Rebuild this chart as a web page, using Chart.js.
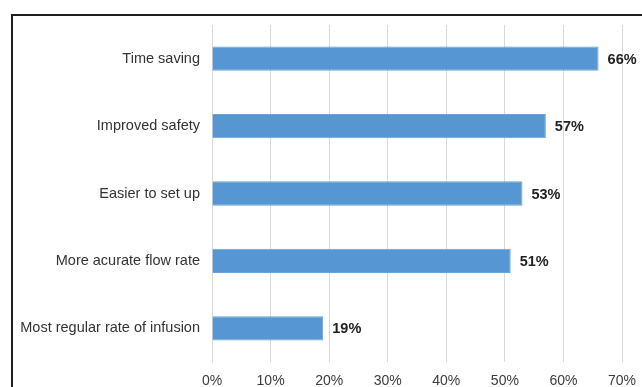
<!DOCTYPE html>
<html>
<head>
<meta charset="utf-8">
<script src="https://cdn.jsdelivr.net/npm/chart.js@4"></script>
<style>
  html, body { margin: 0; padding: 0; background: #fff; overflow: hidden; }
  #wrap { position: relative; width: 642px; height: 387px; overflow: hidden; }
  #frame {
    position: absolute; left: 11px; top: 14px; width: 700px; height: 500px;
    border-left: 2px solid #1e1e1e; border-top: 2px solid #1e1e1e;
    pointer-events: none;
  }
  canvas { position: absolute; left: 0; top: 0; }
</style>
</head>
<body>
<div id="wrap">
  <canvas id="chart" width="642" height="400"></canvas>
  <div id="frame"></div>
</div>
<script>
const categories = [
  'Time saving',
  'Improved safety',
  'Easier to set up',
  'More acurate flow rate',
  'Most regular rate of infusion'
];
const shares = [66, 57, 53, 51, 19];
const xTicks = [0, 10, 20, 30, 40, 50, 60, 70];

const FONT = "'Liberation Sans', Arial, sans-serif";

// percentage printed just right of each bar
const valueLabels = {
  id: 'valueLabels',
  afterDatasetsDraw(chart) {
    const ctx = chart.ctx;
    const meta = chart.getDatasetMeta(0);
    ctx.save();
    ctx.font = 'bold 14.5px ' + FONT;
    ctx.fillStyle = '#222';
    ctx.textAlign = 'left';
    ctx.textBaseline = 'middle';
    meta.data.forEach((bar, i) => {
      ctx.fillText(shares[i] + '%', bar.x + 9, bar.y + 1);
    });
    ctx.restore();
  }
};

new Chart(document.getElementById('chart').getContext('2d'), {
  type: 'bar',
  data: {
    labels: categories,
    datasets: [{
      data: shares,
      backgroundColor: '#5596d3',
      borderColor: '#6aa3d9',
      borderWidth: 1,
      barPercentage: 0.36,
      categoryPercentage: 1
    }]
  },
  options: {
    indexAxis: 'y',
    responsive: false,
    animation: false,
    layout: { padding: { top: 25, right: 20, left: 0, bottom: 0 } },
    plugins: {
      legend: { display: false },
      tooltip: { enabled: false }
    },
    scales: {
      x: {
        min: 0,
        max: 70,
        afterBuildTicks: (s) => { s.ticks = xTicks.map(v => ({ value: v })); },
        afterFit: (s) => {
          s.height = 38;
          s.paddingLeft = 0;
          s.paddingRight = 0;
        },
        grid: { color: '#d9d9d9', lineWidth: 1, drawTicks: false },
        border: { display: false },
        ticks: {
          padding: 11,
          color: '#3c3c3c',
          font: { family: FONT, size: 14 },
          callback: (v) => v + '%'
        }
      },
      y: {
        afterFit: (s) => { s.width = 212; },
        grid: { display: false, drawTicks: false },
        border: { display: true, color: '#d9d9d9', width: 1 },
        ticks: {
          padding: 12,
          color: '#333',
          font: { family: FONT, size: 14.5 }
        }
      }
    }
  },
  plugins: [valueLabels]
});
</script>
</body>
</html>
